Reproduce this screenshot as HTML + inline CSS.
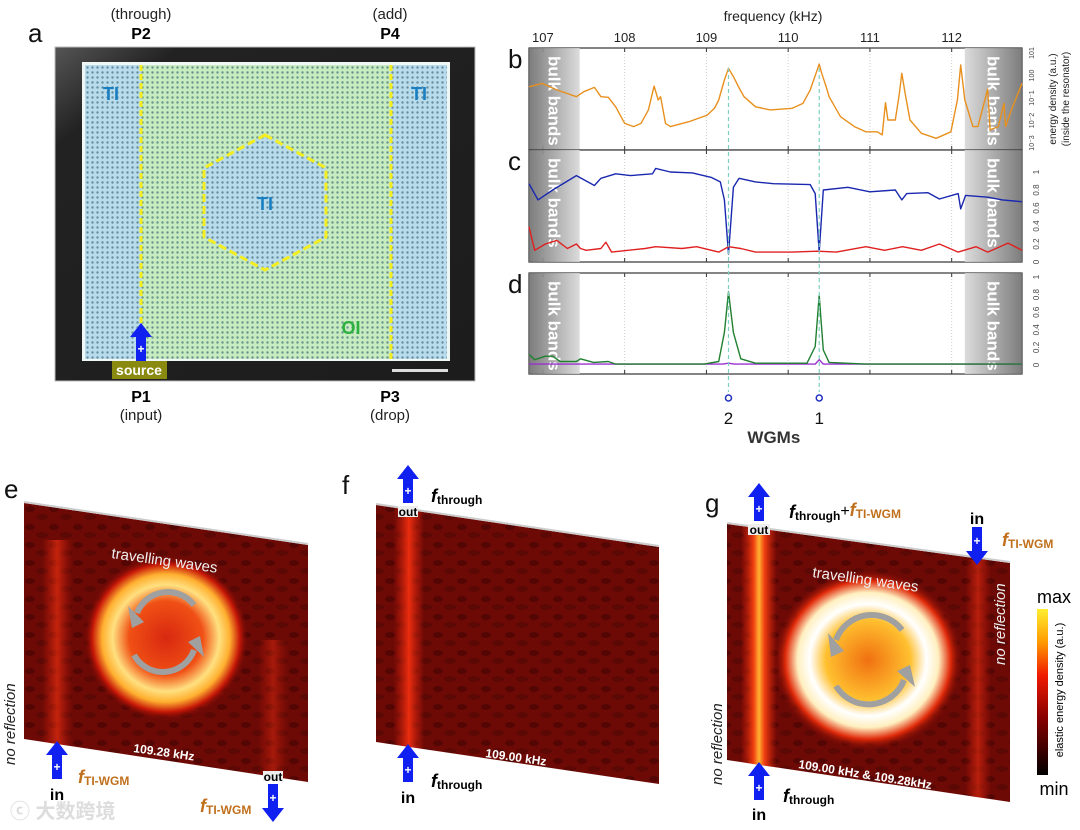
<!DOCTYPE html>
<html><head><meta charset="utf-8"><style>
html,body{margin:0;padding:0;background:#fff;}
svg{display:block;font-family:"Liberation Sans","Noto Sans CJK SC",sans-serif;}
</style></head><body>
<svg id="fig" width="1080" height="830" viewBox="0 0 1080 830" xmlns="http://www.w3.org/2000/svg">
<defs>
  <pattern id="dots" width="5" height="5" patternUnits="userSpaceOnUse">
    <circle cx="2.5" cy="2.5" r="1.2" fill="#2d5a6a" opacity="0.6"/>
  </pattern>
  <linearGradient id="frameG" x1="0" y1="0" x2="1" y2="1">
    <stop offset="0" stop-color="#555"/><stop offset="0.15" stop-color="#222"/><stop offset="1" stop-color="#1c1c1c"/>
  </linearGradient>
  <linearGradient id="bulkL" x1="0" x2="1"><stop offset="0" stop-color="#6e6e6e"/><stop offset="1" stop-color="#d8d8d8"/></linearGradient>
  <linearGradient id="bulkR" x1="0" x2="1"><stop offset="0" stop-color="#d8d8d8"/><stop offset="1" stop-color="#6e6e6e"/></linearGradient>
  <linearGradient id="cbar" x1="0" y1="1" x2="0" y2="0">
    <stop offset="0" stop-color="#000"/><stop offset="0.35" stop-color="#8a0000"/><stop offset="0.6" stop-color="#f01a00"/><stop offset="0.8" stop-color="#ff9a00"/><stop offset="1" stop-color="#ffee30"/>
  </linearGradient>
  <linearGradient id="streak" x1="0" x2="1">
    <stop offset="0" stop-color="#e0200a" stop-opacity="0"/><stop offset="0.5" stop-color="#f03010" stop-opacity="0.95"/><stop offset="1" stop-color="#e0200a" stop-opacity="0"/>
  </linearGradient>
  <linearGradient id="streakBright" x1="0" x2="1">
    <stop offset="0" stop-color="#e0200a" stop-opacity="0"/><stop offset="0.35" stop-color="#f04010"/><stop offset="0.5" stop-color="#ffb030"/><stop offset="0.65" stop-color="#f04010"/><stop offset="1" stop-color="#e0200a" stop-opacity="0"/>
  </linearGradient>
  <radialGradient id="ringE">
    <stop offset="0" stop-color="#d82810"/><stop offset="0.45" stop-color="#f05015"/><stop offset="0.65" stop-color="#ffe080"/><stop offset="0.78" stop-color="#ffb030"/><stop offset="0.9" stop-color="#c81808"/><stop offset="1" stop-color="#7a0a04" stop-opacity="0"/>
  </radialGradient>
  <radialGradient id="ringG">
    <stop offset="0" stop-color="#f07010"/><stop offset="0.45" stop-color="#ffc030"/><stop offset="0.62" stop-color="#ffffff"/><stop offset="0.75" stop-color="#fff0c0"/><stop offset="0.88" stop-color="#e02a0a"/><stop offset="1" stop-color="#7a0a04" stop-opacity="0"/>
  </radialGradient>
  <pattern id="mottle" width="24" height="18" patternUnits="userSpaceOnUse">
    <rect width="24" height="18" fill="#6e0a06"/>
    <ellipse cx="6" cy="5" rx="5" ry="3" fill="#540604"/>
    <ellipse cx="18" cy="13" rx="6" ry="3" fill="#5c0805"/>
  </pattern>
  <clipPath id="clipE"><polygon points="24,503 308,545 308,782 24,739"/></clipPath>
  <clipPath id="clipF"><polygon points="376,505 659,547 659,784 376,742"/></clipPath>
  <clipPath id="clipG"><polygon points="727,524 1010,563 1010,802 727,760"/></clipPath>
  <g id="arrowUp"><polygon points="-11,-2 0,-16 11,-2 5,-2 5,22 -5,22 -5,-2" fill="#1020f0"/><text x="0" y="14" font-size="12" font-weight="bold" fill="#fff" text-anchor="middle">+</text></g>
  <g id="arrowDown"><polygon points="-11,2 0,16 11,2 5,2 5,-22 -5,-22 -5,2" fill="#1020f0"/><text x="0" y="-4" font-size="12" font-weight="bold" fill="#fff" text-anchor="middle">+</text></g>
</defs>

<!-- PANEL A -->
<g>
  <text x="28" y="42" font-size="26" fill="#111">a</text>
  <text x="141" y="19" font-size="15" text-anchor="middle" fill="#222">(through)</text>
  <text x="141" y="39" font-size="16" font-weight="bold" text-anchor="middle">P2</text>
  <text x="390" y="19" font-size="15" text-anchor="middle" fill="#222">(add)</text>
  <text x="390" y="39" font-size="16" font-weight="bold" text-anchor="middle">P4</text>
  <rect x="55" y="47" width="420" height="334" fill="url(#frameG)" stroke="#bbb" stroke-width="1"/>
  <rect x="82" y="62" width="368" height="299" fill="#eef6f6"/>
  <rect x="85" y="65" width="56" height="294" fill="#b9dcec"/>
  <rect x="141" y="65" width="250" height="294" fill="#c6ecc0"/>
  <rect x="391" y="65" width="56" height="294" fill="#b9dcec"/>
  <polygon points="265,135 326,168 326,237 265,270 204,237 204,168" fill="#b9dcec"/>
  <rect x="85" y="65" width="362" height="294" fill="url(#dots)"/>
  <line x1="141" y1="65" x2="141" y2="325" stroke="#f4ee20" stroke-width="3" stroke-dasharray="6,3"/>
  <line x1="391" y1="65" x2="391" y2="359" stroke="#f4ee20" stroke-width="3" stroke-dasharray="6,3"/>
  <polygon points="265,135 326,168 326,237 265,270 204,237 204,168" fill="none" stroke="#f4ee20" stroke-width="3" stroke-dasharray="8,4"/>
  <text x="111" y="100" font-size="18" font-weight="bold" fill="#1a7fc0" text-anchor="middle">TI</text>
  <text x="419" y="100" font-size="18" font-weight="bold" fill="#1a7fc0" text-anchor="middle">TI</text>
  <text x="265" y="210" font-size="18" font-weight="bold" fill="#1a7fc0" text-anchor="middle">TI</text>
  <text x="351" y="334" font-size="18" font-weight="bold" fill="#2db040" text-anchor="middle">OI</text>
  <use href="#arrowUp" x="141" y="339"/>
  <rect x="112" y="361" width="55" height="18" fill="#8a8a10"/>
  <text x="139" y="375" font-size="14" font-weight="bold" fill="#fff" text-anchor="middle">source</text>
  <rect x="392" y="369" width="56" height="3" fill="#ddd"/>
  <text x="141" y="402" font-size="16" font-weight="bold" text-anchor="middle">P1</text>
  <text x="141" y="420" font-size="15" text-anchor="middle" fill="#222">(input)</text>
  <text x="390" y="402" font-size="16" font-weight="bold" text-anchor="middle">P3</text>
  <text x="390" y="420" font-size="15" text-anchor="middle" fill="#222">(drop)</text>
</g>

<!-- PANELS B-D (drawn by script) -->
<g id="spectra"></g>

<!-- PANEL E -->
<g>
  <text x="4" y="498" font-size="26" fill="#111">e</text>
  <g clip-path="url(#clipE)">
    <rect x="20" y="500" width="292" height="290" fill="url(#mottle)"/>
    <rect x="42" y="540" width="30" height="210" fill="url(#streak)" opacity="0.7"/>
    <rect x="258" y="640" width="30" height="150" fill="url(#streak)" opacity="0.45"/>
    <ellipse cx="166" cy="638" rx="82" ry="82" fill="url(#ringE)"/>
  </g>
  <line x1="24" y1="502" x2="308" y2="544" stroke="#ccc" stroke-width="2"/>
  <path d="M 137 613 A 33 33 0 0 1 194 605" fill="none" stroke="#a0a0a0" stroke-width="6"/>
  <polygon points="128,606 144,622 132,628" fill="#a0a0a0"/>
  <path d="M 194 650 A 33 33 0 0 1 134 655" fill="none" stroke="#a0a0a0" stroke-width="6"/>
  <polygon points="204,657 188,642 200,636" fill="#a0a0a0"/>
  <text x="111" y="558" font-size="15" fill="#eee" transform="rotate(8 111 558)">travelling waves</text>
  <text x="133" y="752" font-size="12" font-weight="bold" fill="#fff" transform="rotate(8 133 752)">109.28 kHz</text>
  <text x="15" y="765" font-size="15" font-style="italic" fill="#222" transform="rotate(-90 15 765)">no reflection</text>
  <use href="#arrowUp" x="57" y="757"/>
  <text x="57" y="800" font-size="16" font-weight="bold" text-anchor="middle">in</text>
  <text x="78" y="783" font-size="18" font-weight="bold" font-style="italic" fill="#c0701c">f<tspan font-size="12" font-style="normal" dy="2">TI-WGM</tspan></text>
  <rect x="263" y="771" width="20" height="10" fill="#eee"/>
  <text x="273" y="781" font-size="12" font-weight="bold" text-anchor="middle">out</text>
  <use href="#arrowDown" x="273" y="806"/>
  <text x="200" y="812" font-size="18" font-weight="bold" font-style="italic" fill="#c0701c">f<tspan font-size="12" font-style="normal" dy="2">TI-WGM</tspan></text>
  <text x="10" y="818" font-size="20" font-weight="bold" fill="#ddd">ⓒ 大数跨境</text>
</g>

<!-- PANEL F -->
<g>
  <text x="342" y="494" font-size="26" fill="#111">f</text>
  <g clip-path="url(#clipF)">
    <rect x="372" y="500" width="292" height="290" fill="url(#mottle)"/>
    <rect x="394" y="500" width="30" height="250" fill="url(#streak)"/>
  </g>
  <line x1="376" y1="504" x2="659" y2="546" stroke="#ccc" stroke-width="2"/>
  <rect x="398" y="506" width="20" height="11" fill="#eee"/>
  <text x="408" y="516" font-size="12" font-weight="bold" text-anchor="middle">out</text>
  <use href="#arrowUp" x="408" y="481"/>
  <text x="431" y="502" font-size="18" font-weight="bold" font-style="italic">f<tspan font-size="12" font-style="normal" dy="2">through</tspan></text>
  <text x="485" y="757" font-size="12" font-weight="bold" fill="#fff" transform="rotate(8 485 757)">109.00 kHz</text>
  <use href="#arrowUp" x="408" y="760"/>
  <text x="408" y="803" font-size="16" font-weight="bold" text-anchor="middle">in</text>
  <text x="431" y="787" font-size="18" font-weight="bold" font-style="italic">f<tspan font-size="12" font-style="normal" dy="2">through</tspan></text>
</g>

<!-- PANEL G -->
<g>
  <text x="705" y="512" font-size="26" fill="#111">g</text>
  <g clip-path="url(#clipG)">
    <rect x="724" y="520" width="290" height="290" fill="url(#mottle)"/>
    <rect x="741" y="520" width="36" height="250" fill="url(#streakBright)"/>
    <rect x="965" y="560" width="26" height="240" fill="url(#streak)" opacity="0.6"/>
    <ellipse cx="868" cy="660" rx="94" ry="90" fill="url(#ringG)"/>
  </g>
  <line x1="727" y1="523" x2="1010" y2="562" stroke="#ccc" stroke-width="2"/>
  <path d="M 836 640 A 38 38 0 0 1 902 630" fill="none" stroke="#a0a0a0" stroke-width="6"/>
  <polygon points="828,633 844,651 831,657" fill="#a0a0a0"/>
  <path d="M 904 680 A 38 38 0 0 1 836 686" fill="none" stroke="#a0a0a0" stroke-width="6"/>
  <polygon points="915,687 897,671 910,665" fill="#a0a0a0"/>
  <text x="812" y="577" font-size="15" fill="#eee" transform="rotate(8 812 577)">travelling waves</text>
  <text x="798" y="768" font-size="12" font-weight="bold" fill="#fff" transform="rotate(9 798 768)">109.00 kHz &amp; 109.28kHz</text>
  <rect x="748" y="524" width="22" height="11" fill="#eee"/>
  <text x="759" y="534" font-size="12" font-weight="bold" text-anchor="middle">out</text>
  <use href="#arrowUp" x="759" y="499"/>
  <text x="789" y="518" font-size="18" font-weight="bold" font-style="italic">f<tspan font-size="12" font-style="normal" dy="2">through</tspan><tspan font-style="normal" font-weight="normal" font-size="16" dy="-4">+</tspan><tspan fill="#c0701c" dy="0">f</tspan><tspan fill="#c0701c" font-size="12" font-style="normal" dy="2">TI-WGM</tspan></text>
  <text x="977" y="524" font-size="16" font-weight="bold" text-anchor="middle">in</text>
  <use href="#arrowDown" x="977" y="549"/>
  <text x="1002" y="546" font-size="18" font-weight="bold" font-style="italic" fill="#c0701c">f<tspan font-size="12" font-style="normal" dy="2">TI-WGM</tspan></text>
  <text x="1005" y="665" font-size="15" font-style="italic" fill="#eee" transform="rotate(-90 1005 665)">no reflection</text>
  <text x="722" y="785" font-size="15" font-style="italic" fill="#222" transform="rotate(-90 722 785)">no reflection</text>
  <use href="#arrowUp" x="759" y="778"/>
  <text x="759" y="820" font-size="16" font-weight="bold" text-anchor="middle">in</text>
  <text x="783" y="802" font-size="18" font-weight="bold" font-style="italic">f<tspan font-size="12" font-style="normal" dy="2">through</tspan></text>
  <rect x="1037" y="609" width="11" height="166" fill="url(#cbar)"/>
  <text x="1054" y="603" font-size="18" text-anchor="middle">max</text>
  <text x="1054" y="795" font-size="18" text-anchor="middle">min</text>
  <text x="1063" y="690" font-size="11" text-anchor="middle" transform="rotate(-90 1063 690)">elastic energy density (a.u.)</text>
</g>

<script>
// ---- data ----
const freqTicks = [107,108,109,110,111,112];
const energyFreq = [106.83,106.99,107.17,107.41,107.50,107.63,107.71,107.80,107.89,108.00,108.11,108.20,108.29,108.36,108.41,108.44,108.50,108.56,108.79,109.01,109.10,109.15,109.22,109.27,109.33,109.40,109.46,109.60,109.78,110.05,110.18,110.27,110.34,110.38,110.41,110.46,110.50,110.64,110.81,110.95,111.09,111.15,111.19,111.22,111.31,111.36,111.39,111.43,111.49,111.63,111.81,111.99,112.07,112.11,112.16,112.26,112.32,112.44,112.47,112.57,112.64,112.66,112.73,112.86];
const energyLog = [-0.50,-0.35,-0.64,-0.94,-0.72,-0.53,-0.94,-0.97,-1.39,-2.13,-2.27,-2.13,-1.53,-0.47,-1.09,-0.94,-2.13,-2.27,-2.05,-1.76,-1.45,-1.09,-0.20,0.32,-0.05,-0.55,-0.94,-1.39,-1.53,-1.46,-1.24,-0.64,0.10,0.51,0.10,-0.45,-0.94,-1.83,-2.27,-2.50,-2.50,-2.64,-1.21,-1.98,-1.98,-0.79,0.10,-0.79,-1.98,-2.57,-2.79,-2.50,-1.09,0.47,-1.09,-2.27,-2.27,-0.61,-2.42,-2.27,-1.24,-2.27,-1.53,-0.35];
const logTicks = [-3,-2,-1,0,1];
const s21Freq = [106.83,106.94,107.12,107.41,107.63,107.71,107.89,108.07,108.34,108.38,108.56,108.83,109.06,109.17,109.22,109.27,109.33,109.40,109.60,109.82,110.27,110.33,110.38,110.43,110.73,111.00,111.31,111.39,111.45,111.71,111.85,112.08,112.11,112.17,112.44,112.62,112.86];
const s21Val = [0.87,0.69,0.80,0.96,0.85,0.93,0.98,0.96,0.98,1.04,1.00,0.99,0.94,0.89,0.69,0.09,0.83,0.93,0.89,0.87,0.86,0.76,0.11,0.80,0.83,0.78,0.80,0.69,0.76,0.77,0.70,0.76,0.59,0.74,0.72,0.69,0.67];
const s11Freq = [106.83,106.90,107.03,107.17,107.30,107.41,107.46,107.53,107.71,107.77,107.84,108.25,108.38,108.70,108.88,109.15,109.27,109.42,109.60,110.05,110.36,110.59,110.95,111.18,111.40,111.63,111.85,112.08,112.30,112.44,112.69,112.86];
const s11Val = [0.39,0.13,0.20,0.24,0.15,0.20,0.15,0.13,0.15,0.22,0.11,0.15,0.17,0.15,0.17,0.11,0.17,0.15,0.11,0.11,0.12,0.11,0.17,0.13,0.17,0.13,0.20,0.11,0.17,0.11,0.21,0.13];
const s31Freq = [106.83,106.90,107.03,107.12,107.21,107.41,107.46,107.62,107.80,107.89,108.25,108.97,109.15,109.22,109.27,109.33,109.42,109.60,110.23,110.33,110.38,110.43,110.50,110.95,112.86];
const s31Val = [0.12,0.06,0.10,0.10,0.04,0.04,0.07,0.03,0.04,0.01,0.01,0.01,0.04,0.37,0.83,0.37,0.07,0.02,0.02,0.21,0.79,0.17,0.03,0.01,0.01];
const s41Freq = [106.83,109.20,109.27,109.34,110.33,110.38,110.43,112.86];
const s41Val = [0.01,0.01,0.02,0.01,0.01,0.06,0.01,0.01];
const linTicks = [0,0.2,0.4,0.6,0.8,1.0];
const wgmFreq = [110.38,109.27];
const wgmLabels = ["1","2"];

// ---- axes ----
const X0=529, X1=1022, F0=106.83, F1=112.86;
const BULK_L=107.45, BULK_R=112.16;
const xS = f => X0 + (f-F0)/(F1-F0)*(X1-X0);
const yB = v => 143 - (v+3)*22.5;
const yC = v => 262 - v*90;
const yD = v => 365 - v*88;
const NS="http://www.w3.org/2000/svg";
const root=document.getElementById('spectra');
function mk(tag, attrs, parent){const e=document.createElementNS(NS,tag);for(const k in attrs)e.setAttribute(k,attrs[k]);(parent||root).appendChild(e);return e;}
function txt(s, attrs, parent){const e=mk('text',attrs,parent);e.textContent=s;return e;}
const panels=[{top:48,bot:150,name:'b'},{top:150,bot:262,name:'c'},{top:273,bot:374,name:'d'}];
panels.forEach(p=>{
  const g=mk('g',{});
  
  
  const bg=mk('rect',{x:X0,y:p.top,width:X1-X0,height:p.bot-p.top,fill:'#fff',stroke:'#333','stroke-width':1.2},g);
  
  
  freqTicks.forEach(f=>{
    const l=mk('line',{x1:xS(f),x2:xS(f),y1:p.top,y2:p.bot,stroke:'#ccc','stroke-dasharray':'1,2'},g);
    
    
    mk('line',{x1:xS(f),x2:xS(f),y1:p.top,y2:p.top+4,stroke:'#333'},g);
    mk('line',{x1:xS(f),x2:xS(f),y1:p.bot,y2:p.bot-4,stroke:'#333'},g);
  });
  const bl=mk('rect',{x:X0,y:p.top,width:xS(BULK_L)-X0,height:p.bot-p.top,fill:'url(#bulkL)',opacity:0.9},g);
  
  
  const br=mk('rect',{x:xS(BULK_R),y:p.top,width:X1-xS(BULK_R),height:p.bot-p.top,fill:'url(#bulkR)',opacity:0.9},g);
  
  
  [[(X0+xS(BULK_L))/2-6,'bulk-bands-label-left-'],[(xS(BULK_R)+X1)/2-6,'bulk-bands-label-right-']].forEach(([x,n])=>{
    const t=txt('bulk bands',{x:x,y:p.top+8,'font-size':17,'font-weight':'bold',fill:'#fff',transform:`rotate(90 ${x} ${p.top+8})`},g);
    
    
  });
  const lab=txt(p.name,{x:508,y:p.top+20,'font-size':26,fill:'#111'});
  
  
});
freqTicks.forEach(f=>{
  const t=txt(String(f),{x:xS(f),y:42,'font-size':13,'text-anchor':'middle',fill:'#222'});
  
  
});
const xt=txt('frequency (kHz)',{x:773,y:21,'font-size':14,'text-anchor':'middle',fill:'#222'});


logTicks.forEach(v=>{
  const yy=yB(v);
  const t=txt('',{x:1034,y:yy,'font-size':7,fill:'#444','text-anchor':'middle',transform:`rotate(-90 1034 ${yy})`});
  t.textContent = v<0 ? '10\u207B'+Math.abs(v) : '10'+v;
  
  
});
linTicks.forEach(v=>{
  const t1=txt(String(v),{x:1036,y:yC(v)+3,'font-size':8,fill:'#444','text-anchor':'middle',transform:`rotate(-90 1036 ${yC(v)})`});
  
  
  const t2=txt(String(v),{x:1036,y:yD(v)+3,'font-size':8,fill:'#444','text-anchor':'middle',transform:`rotate(-90 1036 ${yD(v)})`});
  
  
});
const yb1=txt('energy density (a.u.)',{x:1056,y:99,'font-size':10,'text-anchor':'middle',fill:'#222',transform:'rotate(-90 1056 99)'});


const yb2=txt('(inside the resonator)',{x:1069,y:99,'font-size':10,'text-anchor':'middle',fill:'#222',transform:'rotate(-90 1069 99)'});


function sLabel(x,yc,a,ca,b,cb,name){
  const t=mk('text',{x:x,y:yc,'font-size':12,'font-weight':'bold','text-anchor':'middle',transform:`rotate(-90 ${x} ${yc})`});
  t.innerHTML=`<tspan fill="${ca}">S</tspan><tspan fill="${ca}" font-size="8" dy="3">${a}</tspan><tspan fill="#222" dy="-3" font-weight="normal"> &amp; </tspan><tspan fill="${cb}">S</tspan><tspan fill="${cb}" font-size="8" dy="3">${b}</tspan>`;
  
  
}
sLabel(1061,220,'11','#d02020','21','#2030b0','y-axis-title-c');
sLabel(1061,332,'31','#20a050','41','#8030b0','y-axis-title-d');
function series(fs,vs,ys,color,name,w){
  let d='';fs.forEach((f,i)=>{d+=(i?'L':'M')+xS(f).toFixed(1)+' '+ys(vs[i]).toFixed(1)+' ';});
  const p=mk('path',{d:d,fill:'none',stroke:color,'stroke-width':w||1.4,'stroke-linejoin':'round'});
  
  
}
series(energyFreq,energyLog,yB,'#e8901e','energy-density-line');
series(s21Freq,s21Val,yC,'#1a28b0','s21-line');
series(s11Freq,s11Val,yC,'#e02020','s11-line');
series(s41Freq,s41Val,yD,'#9b30d0','s41-line');
series(s31Freq,s31Val,yD,'#208030','s31-line');
wgmFreq.forEach((f,i)=>{
  const l=mk('line',{x1:xS(f),x2:xS(f),y1:68,y2:392,stroke:'#7fd0c0','stroke-width':1.2,'stroke-dasharray':'4,3'});
  
  
  const c=mk('circle',{cx:xS(f),cy:398,r:3,fill:'none',stroke:'#2030c0','stroke-width':1.5});
  
  
  const t=txt(wgmLabels[i],{x:xS(f),y:424,'font-size':17,'text-anchor':'middle',fill:'#111'});
  
  
});
const wt=txt('WGMs',{x:(xS(wgmFreq[0])+xS(wgmFreq[1]))/2,y:443,'font-size':17,'font-weight':'bold','text-anchor':'middle',fill:'#333'});


</script>
</svg>
</body></html>
